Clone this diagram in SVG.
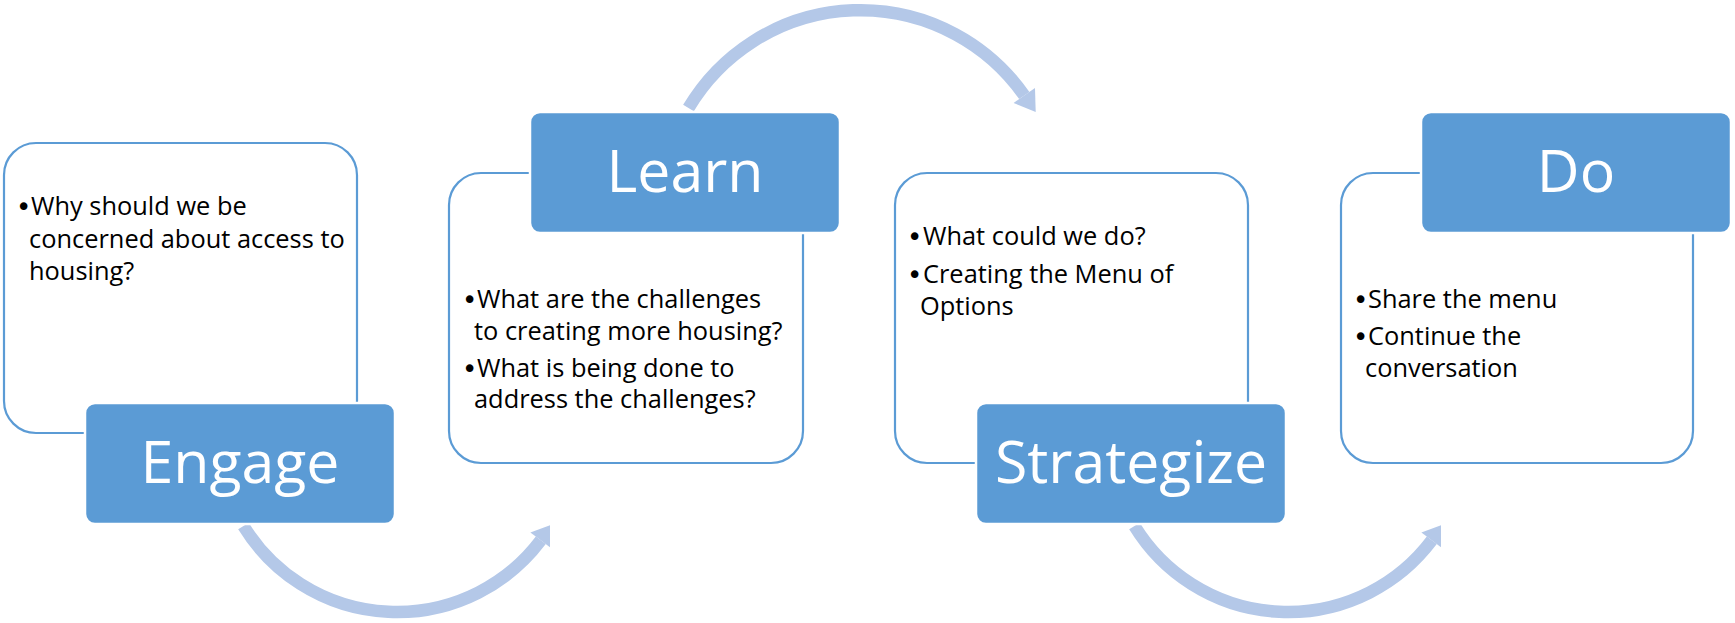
<svg xmlns="http://www.w3.org/2000/svg" width="1735" height="623" viewBox="0 0 1735 623">
<style>
.panel{fill:#ffffff;stroke:#5b9bd5;stroke-width:2.2}
.head{fill:#5b9bd5;stroke:#ffffff;stroke-width:2.5}
.title{font-family:"Open Sans","Noto Sans",sans-serif;font-size:59px;fill:#ffffff;text-anchor:middle}
.body{font-family:"Open Sans","Noto Sans",sans-serif;font-size:25.4px;fill:#000000}
.bul{font-family:"DejaVu Sans",sans-serif;font-size:26px;fill:#000000}
.arc{fill:none;stroke:#b4c8e8;stroke-width:12.5}
.tip{fill:#b4c8e8}
</style>
<rect width="1735" height="623" fill="#ffffff"/>
<g id="connectors">
<path class="arc" d="M 243.5 526 A 180 180 0 0 0 540.8 540.3"/>
<polygon class="tip" points="530.4,532.5 550,525.3 550,547.2"/>
<path class="arc" d="M 688.5 108 A 200 200 0 0 1 1024.3 95.5"/>
<polygon class="tip" points="1013.6,102.9 1035,88.1 1035.7,111.9"/>
<path class="arc" d="M 1134.5 526 A 180 180 0 0 0 1431.8 540.3"/>
<polygon class="tip" points="1421.4,532.5 1441,525.3 1441,547.2"/>
</g>
<g id="engage">
<rect class="panel" x="4" y="143" width="353" height="290" rx="32"/>
<text class="bul" x="16" y="216">•</text>
<text class="body" x="31" y="215">Why should we be</text>
<text class="body" x="29" y="248">concerned about access to</text>
<text class="body" x="29" y="280">housing?</text>
<rect class="head" x="85" y="403" width="310" height="121" rx="10"/>
<text class="title" x="240" y="483">Engage</text>
</g>
<g id="learn">
<rect class="panel" x="449" y="173" width="354" height="290" rx="32"/>
<text class="bul" x="462" y="309">•</text>
<text class="body" x="477" y="308">What are the challenges</text>
<text class="body" x="474" y="340">to creating more housing?</text>
<text class="bul" x="462" y="378">•</text>
<text class="body" x="477" y="377">What is being done to</text>
<text class="body" x="474" y="408">address the challenges?</text>
<rect class="head" x="530" y="112" width="310" height="121" rx="10"/>
<text class="title" x="685" y="192">Learn</text>
</g>
<g id="strategize">
<rect class="panel" x="895" y="173" width="353" height="290" rx="32"/>
<text class="bul" x="907" y="246">•</text>
<text class="body" x="923" y="245">What could we do?</text>
<text class="bul" x="907" y="284">•</text>
<text class="body" x="923" y="283">Creating the Menu of</text>
<text class="body" x="920" y="315">Options</text>
<rect class="head" x="976" y="403" width="310" height="121" rx="10"/>
<text class="title" x="1131" y="483">Strategize</text>
</g>
<g id="do">
<rect class="panel" x="1341" y="173" width="352" height="290" rx="32"/>
<text class="bul" x="1353" y="309">•</text>
<text class="body" x="1368" y="308">Share the menu</text>
<text class="bul" x="1353" y="346">•</text>
<text class="body" x="1368" y="345">Continue the</text>
<text class="body" x="1365" y="377">conversation</text>
<rect class="head" x="1421" y="112" width="310" height="121" rx="10"/>
<text class="title" x="1576" y="192">Do</text>
</g>
</svg>
